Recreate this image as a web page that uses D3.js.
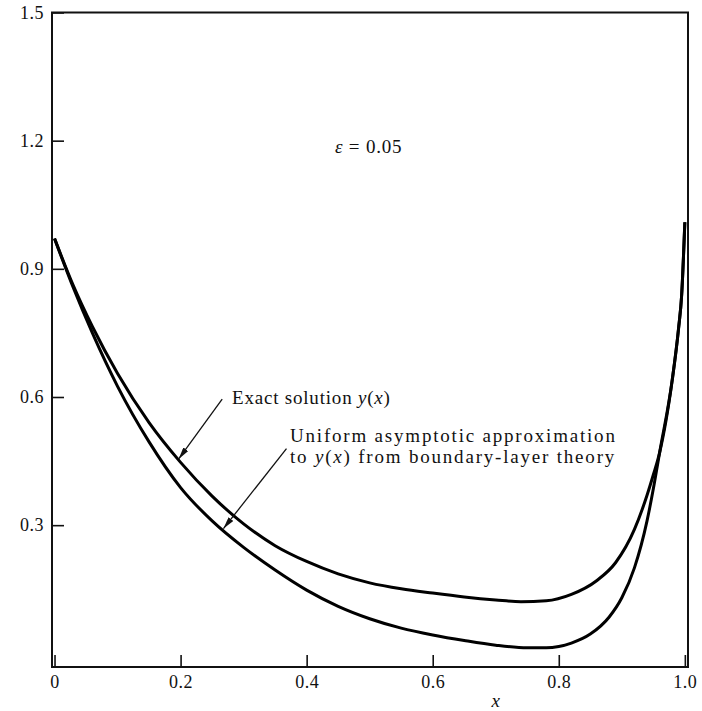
<!DOCTYPE html>
<html>
<head>
<meta charset="utf-8">
<script src="https://cdn.jsdelivr.net/npm/d3@7"></script>
<style>
  body { margin: 0; background: #fff; }
  svg { display: block; }
  .axis text { font-family: "Liberation Serif", "DejaVu Serif", serif; font-size: 18px; letter-spacing: 0.5px; fill: #111; }
  .note { font-family: "Liberation Serif", "DejaVu Serif", serif; font-size: 19px; fill: #111; }
</style>
</head>
<body>
<div id="chart"></div>
<script>
// Exact solution y(x)
const exactX = [0, 0.03, 0.06, 0.1, 0.15, 0.2, 0.25, 0.3, 0.35, 0.4, 0.45, 0.5, 0.55, 0.6, 0.65, 0.7, 0.74, 0.78, 0.82, 0.86, 0.89, 0.92, 0.94, 0.95, 0.96, 0.98, 0.99, 0.995, 1.0];
const exactY = [0.971, 0.86, 0.765, 0.655, 0.54, 0.447, 0.368, 0.303, 0.252, 0.215, 0.186, 0.165, 0.151, 0.141, 0.132, 0.125, 0.121, 0.123, 0.138, 0.170, 0.212, 0.29, 0.37, 0.418, 0.47, 0.64, 0.76, 0.84, 1.009];

// Uniform asymptotic approximation from boundary-layer theory
const uniformX = [0, 0.03, 0.06, 0.1, 0.15, 0.2, 0.25, 0.3, 0.35, 0.4, 0.45, 0.5, 0.55, 0.6, 0.65, 0.7, 0.75, 0.78, 0.8, 0.82, 0.85, 0.88, 0.9, 0.92, 0.94, 0.95, 0.96, 0.98, 0.99, 0.995, 1.0];
const uniformY = [0.971, 0.855, 0.75, 0.625, 0.495, 0.388, 0.31, 0.248, 0.195, 0.148, 0.11, 0.081, 0.059, 0.043, 0.03, 0.019, 0.013, 0.013, 0.016, 0.024, 0.045, 0.085, 0.13, 0.2, 0.31, 0.385, 0.47, 0.64, 0.76, 0.84, 1.009];

// Tick labels
const xTicks = [0, 0.2, 0.4, 0.6, 0.8, 1.0];
const xTickLabels = ["0", "0.2", "0.4", "0.6", "0.8", "1.0"];
const yTicks = [0.3, 0.6, 0.9, 1.2, 1.5];
const yTickLabels = ["0.3", "0.6", "0.9", "1.2", "1.5"];

const W = 702, H = 711;

const svg = d3.select("#chart")
  .append("svg")
    .attr("width", W)
    .attr("height", H);

// Scales (plot box spans 52..688 horizontally, 12.5..667 vertically)
const x = d3.scaleLinear()
  .domain([-0.004, 1.005])
  .range([52, 688]);

const y = d3.scaleLinear()
  .domain([-0.032, 1.5])
  .range([667, 12.5]);

// Bottom axis, ticks pointing inward
svg.append("g")
  .attr("class", "axis")
  .attr("transform", `translate(0,${y(-0.032)})`)
  .call(d3.axisBottom(x)
    .tickValues(xTicks)
    .tickFormat((d, i) => xTickLabels[i])
    .tickSizeInner(-12)
    .tickSizeOuter(0)
    .tickPadding(8));

// Left axis, ticks pointing inward
svg.append("g")
  .attr("class", "axis")
  .attr("transform", `translate(${x(-0.004)},0)`)
  .call(d3.axisLeft(y)
    .tickValues(yTicks)
    .tickFormat((d, i) => yTickLabels[i])
    .tickSizeInner(-12)
    .tickSizeOuter(0)
    .tickPadding(8));

svg.selectAll(".axis .domain").remove();
svg.selectAll(".axis line").attr("stroke", "#111").attr("stroke-width", 1.6);

// Frame box
svg.append("rect")
  .attr("x", x(-0.004))
  .attr("y", y(1.5))
  .attr("width", x(1.005) - x(-0.004))
  .attr("height", y(-0.032) - y(1.5))
  .attr("fill", "none")
  .attr("stroke", "#111")
  .attr("stroke-width", 2);

// Curves
const line = d3.line()
  .x(d => x(d[0]))
  .y(d => y(d[1]))
  .curve(d3.curveMonotoneX);

svg.append("path")
  .datum(d3.zip(exactX, exactY))
  .attr("fill", "none")
  .attr("stroke", "#000")
  .attr("stroke-width", 3)
  .attr("d", line);

svg.append("path")
  .datum(d3.zip(uniformX, uniformY))
  .attr("fill", "none")
  .attr("stroke", "#000")
  .attr("stroke-width", 3)
  .attr("d", line);

// Arrow marker
svg.append("defs").append("marker")
  .attr("id", "arrow")
  .attr("viewBox", "0 0 12 6")
  .attr("refX", 12)
  .attr("refY", 3)
  .attr("markerWidth", 12)
  .attr("markerHeight", 6)
  .attr("markerUnits", "userSpaceOnUse")
  .attr("orient", "auto")
  .append("path")
    .attr("d", "M0,0 L12,3 L0,6 Z")
    .attr("fill", "#111");

// Annotations
svg.append("text")
  .attr("class", "note")
  .attr("x", 335)
  .attr("y", 153)
  .style("letter-spacing", "0.8px")
  .html('<tspan font-style="italic">ε</tspan> = 0.05');

svg.append("text")
  .attr("class", "note")
  .attr("x", 232)
  .attr("y", 404)
  .style("letter-spacing", "0.8px")
  .html('Exact solution <tspan font-style="italic">y</tspan>(<tspan font-style="italic">x</tspan>)');

svg.append("line")
  .attr("x1", x(0.266)).attr("y1", y(0.595))
  .attr("x2", x(0.197)).attr("y2", y(0.455))
  .attr("stroke", "#111")
  .attr("stroke-width", 1.3)
  .attr("marker-end", "url(#arrow)");

svg.append("text")
  .attr("class", "note")
  .attr("x", 290)
  .attr("y", 442)
  .style("letter-spacing", "1.8px")
  .text("Uniform asymptotic approximation");

svg.append("text")
  .attr("class", "note")
  .attr("x", 290)
  .attr("y", 463)
  .style("letter-spacing", "1.8px")
  .html('to <tspan font-style="italic">y</tspan>(<tspan font-style="italic">x</tspan>) from boundary-layer theory');

svg.append("line")
  .attr("x1", x(0.368)).attr("y1", y(0.479))
  .attr("x2", x(0.268)).attr("y2", y(0.292))
  .attr("stroke", "#111")
  .attr("stroke-width", 1.3)
  .attr("marker-end", "url(#arrow)");

// X axis label
svg.append("text")
  .attr("class", "note")
  .attr("x", x(0.7))
  .attr("y", 707)
  .attr("text-anchor", "middle")
  .style("font-style", "italic")
  .text("x");
</script>
</body>
</html>
